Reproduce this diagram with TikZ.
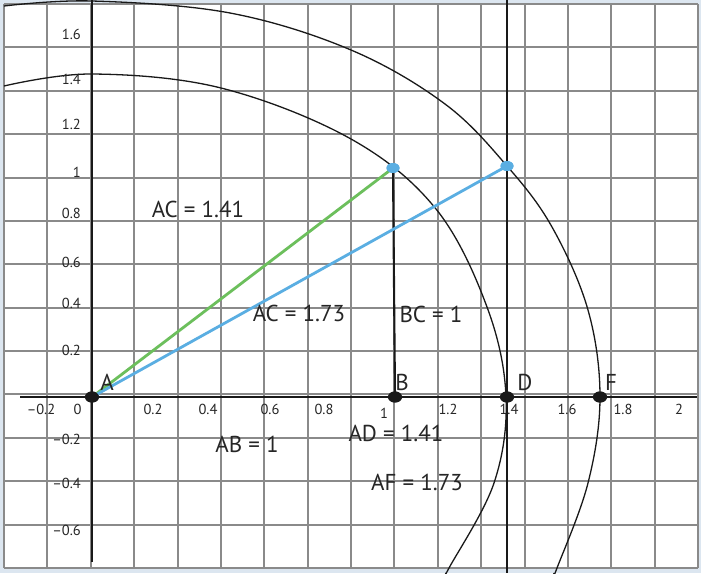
\documentclass[tikz,border=0pt]{standalone}
\usepackage{fontspec}
\setmainfont{PT Sans}
\usetikzlibrary{shapes.geometric}
\definecolor{gridgray}{HTML}{8A8A8A}
\definecolor{paleblue}{HTML}{DCE6F0}
\definecolor{lineblue}{HTML}{5AAEE2}
\definecolor{linegreen}{HTML}{6CBF5C}
\begin{document}
\begin{tikzpicture}[
        x=1pt, y=-1pt,
        gridline/.style={draw=gridgray, line width=2pt},
        axis/.style={draw=black!90, line width=2.5pt},
        rule/.style={draw=black!90, line width=2.1pt},
        arcline/.style={draw=black!90, line width=1.3pt},
        dot/.style={ellipse, fill=black!90, minimum width=14pt, minimum height=11pt, inner sep=0pt},
        bluedot/.style={dot, fill=lineblue, minimum width=13pt, minimum height=10pt},
        lbl/.style={inner sep=0pt, font=\fontsize{23}{26}\selectfont, text=black!85},
        ticklbl/.style={inner sep=0pt, font=\fontsize{14.5}{16}\selectfont, text=black!85},
    ]
    \useasboundingbox (0,0) rectangle (701,573);
    \fill[paleblue] (0,0) rectangle (701,573);
    \fill[white] (4,4) rectangle (698,568);

    % grid
    \foreach \i in {0,...,16}
        \draw[gridline] (4+43.375*\i,4) -- (4+43.375*\i,568);
    \foreach \j in {0,...,13}
        \draw[gridline] (4,4+43.385*\j) -- (698,4+43.385*\j);

    % arcs
    \draw[arcline] plot[smooth, tension=0.6] coordinates {(4,86) (92,74) (221,88) (351,139)
        (436,209) (487,307) (506,397) (494,483) (449,568) (446,573)};
    \draw[arcline] plot[smooth, tension=0.6] coordinates {(4,6) (92,1) (230,13) (351,50)
        (445,104) (507,166) (552,227) (588,310) (600,397) (588,483) (557,568) (554,573)};

    % points
    \coordinate (xl) at (20,397);
    \coordinate (xr) at (697,397);
    \coordinate (yt) at (92,0);
    \coordinate (yb) at (92,562);
    \coordinate (Dt) at (507,0);
    \coordinate (Db) at (507,573);
    \node[dot] (A) at (92,397) {};
    \node[dot] (B) at (395,397) {};
    \node[dot] (D) at (507,397) {};
    \node[dot] (F) at (600,397) {};
    \node[bluedot] (C1) at (393,168) {};
    \node[bluedot] (C2) at (507,166) {};

    % axes and lines
    \draw[axis] (xl) -- (xr);
    \draw[axis] (yt) -- (yb);
    \draw[rule] (Dt) -- (Db);
    \draw[rule] (B.center) -- (C1.center);
    \draw[linegreen, line width=2.8pt] (A.center) -- (C1.center);
    \draw[lineblue, line width=2.8pt] (A.center) -- (C2.center);
    \node[dot] at (A) {};
    \node[dot] at (B) {};
    \node[dot] at (D) {};
    \node[dot] at (F) {};
    \node[bluedot] at (C1) {};
    \node[bluedot] at (C2) {};

    % point labels
    \node[lbl] (labA) at (107,382) {A};
    \node[lbl] (labB) at (402,382) {B};
    \node[lbl] (labD) at (525,382) {D};
    \node[lbl] (labF) at (611,382) {F};

    % lengths
    \node[lbl] (ac1) at (198,209) {AC = 1.41};
    \node[lbl] (ac2) at (299,313) {AC = 1.73};
    \node[lbl] (bc) at (431,314) {BC = 1};
    \node[lbl] (ab) at (247,444) {AB = 1};
    \node[lbl] (ad) at (396,433) {AD = 1.41};
    \node[lbl] (af) at (417,482) {AF = 1.73};

    % ticks
    \foreach \t/\p in {--0.2/41, 0/77.5, 0.2/153, 0.4/208, 0.6/270, 0.8/324,
            1.2/448, 1.4/509, 1.6/567, 1.8/623, 2/679}
        \node[ticklbl] at (\p,409) {\t};
    \node[ticklbl] at (384,413) {1};
    \foreach \t/\p in {1.6/34, 1.4/79, 1.2/124, 1/172, 0.8/213, 0.6/262, 0.4/303,
            0.2/350, --0.2/439, --0.4/483, --0.6/530}
        \node[ticklbl, anchor=east] at (81,\p) {\t};
\end{tikzpicture}
\end{document}
